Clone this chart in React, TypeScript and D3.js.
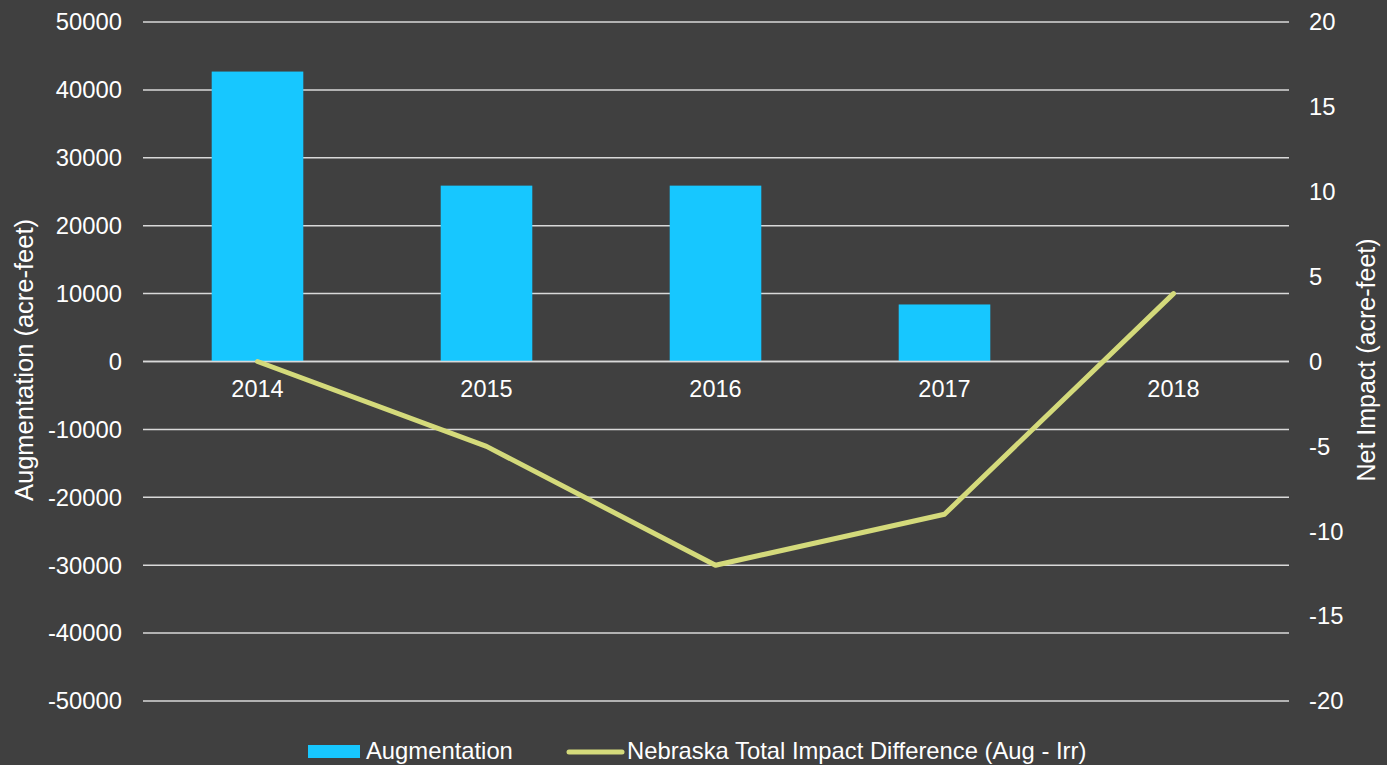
import React from "react";
import * as d3 from "d3";

const categories = ["2014", "2015", "2016", "2017", "2018"];
const augmentation = [42700, 25900, 25900, 8400, 0];
const netImpact = [0, -5, -12, -9, 4];
const leftTicks = [50000, 40000, 30000, 20000, 10000, 0, -10000, -20000, -30000, -40000, -50000];
const rightTicks = [20, 15, 10, 5, 0, -5, -10, -15, -20];

const W = 1387;
const H = 765;
const BG = "#404040";
const BAR = "#17C7FF";
const LINE = "#D4DA7B";
const GRID = "#D9D9D9";
const FONT = "'Liberation Sans', Arial, sans-serif";

export default function App() {
  const x = d3.scaleBand<string>().domain(categories).range([143, 1288]).paddingInner(0).paddingOuter(0);
  const yL = d3.scaleLinear().domain([-50000, 50000]).range([701, 22]);
  const yR = d3.scaleLinear().domain([-20, 20]).range([701, 22]);
  const barW = x.bandwidth() * 0.4;
  const line = d3
    .line<number>()
    .x((_, i) => (x(categories[i]) as number) + x.bandwidth() / 2)
    .y((d) => yR(d));

  return (
    <svg width={W} height={H} style={{ position: "fixed", left: 0, top: 0, background: BG }}>
      <rect x={0} y={0} width={W} height={H} fill={BG} />
      {leftTicks.map((t) => (
        <line key={"g" + t} x1={143} x2={1289} y1={yL(t)} y2={yL(t)} stroke={GRID} strokeWidth={1.5} />
      ))}
      {augmentation.map((v, i) => (
        <rect
          key={"b" + i}
          x={(x(categories[i]) as number) + (x.bandwidth() - barW) / 2}
          y={yL(Math.max(0, v))}
          width={barW}
          height={Math.abs(yL(v) - yL(0))}
          fill={BAR}
        />
      ))}
      <line x1={143} x2={1289} y1={yL(0)} y2={yL(0)} stroke={GRID} strokeWidth={1.5} />
      <path d={line(netImpact) || ""} fill="none" stroke={LINE} strokeWidth={5} strokeLinejoin="round" strokeLinecap="round" />
      {leftTicks.map((t) => (
        <text key={"l" + t} x={122} y={yL(t)} dy="0.35em" textAnchor="end" fill="#FFFFFF" fontFamily={FONT} fontSize={23.8}>
          {t}
        </text>
      ))}
      {rightTicks.map((t) => (
        <text key={"r" + t} x={1309} y={yR(t)} dy="0.35em" textAnchor="start" fill="#FFFFFF" fontFamily={FONT} fontSize={23.8}>
          {t}
        </text>
      ))}
      {categories.map((c) => (
        <text key={"c" + c} x={(x(c) as number) + x.bandwidth() / 2} y={397} textAnchor="middle" fill="#FFFFFF" fontFamily={FONT} fontSize={23.5}>
          {c}
        </text>
      ))}
      <text transform={`translate(33,360) rotate(-90)`} textAnchor="middle" fill="#FFFFFF" fontFamily={FONT} fontSize={25.5}>
        Augmentation (acre-feet)
      </text>
      <text transform={`translate(1375,360) rotate(-90)`} textAnchor="middle" fill="#FFFFFF" fontFamily={FONT} fontSize={25}>
        Net Impact (acre-feet)
      </text>
      <g fontFamily={FONT} fontSize={23.8} fill="#FFFFFF">
        <rect x={308} y={745} width={52} height={13} fill={BAR} />
        <text x={366} y={759}>Augmentation</text>
        <line x1={569} x2={622} y1={752} y2={752} stroke={LINE} strokeWidth={5} strokeLinecap="round" />
        <text x={627} y={759}>Nebraska Total Impact Difference (Aug - Irr)</text>
      </g>
    </svg>
  );
}
